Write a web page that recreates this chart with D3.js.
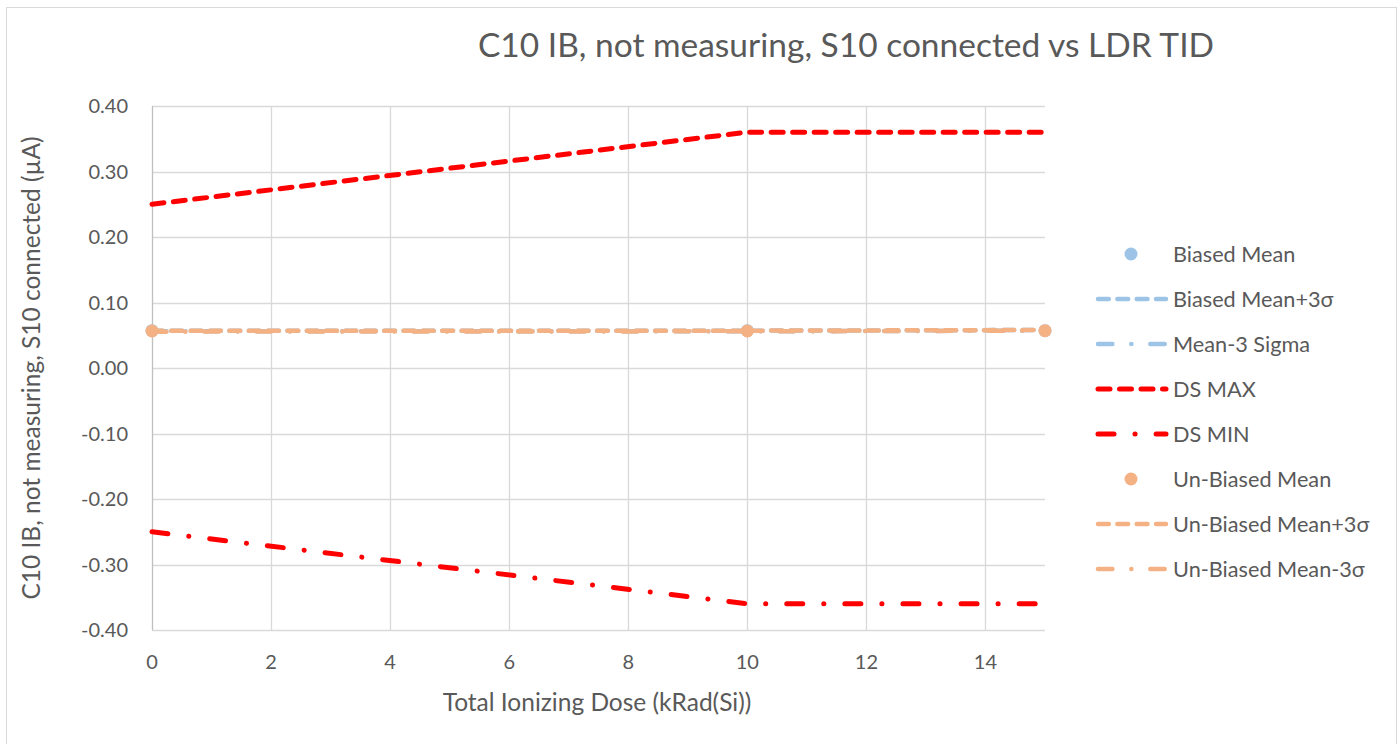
<!DOCTYPE html>
<html>
<head>
<meta charset="utf-8">
<script src="https://cdn.jsdelivr.net/npm/d3@7"></script>
<style>
  html, body { margin: 0; padding: 0; background: #fff; }
  svg { display: block; }
  text { font-family: Lato, "Open Sans", sans-serif; fill: #595959; }
</style>
</head>
<body>
<svg id="chart" width="1399" height="744"></svg>
<script>
// ---- data ----
const doses = [0, 10, 15];
const biasedMean = [0.057, 0.057, 0.057];
const biasedPlus3 = [0.057, 0.057, 0.058];
const biasedMinus3 = [0.056, 0.056, 0.057];
const dsMax = [0.25, 0.36, 0.36];
const dsMin = [-0.25, -0.36, -0.36];
const unbiasedMean = [0.0565, 0.0565, 0.0570];
const unbiasedPlus3 = [0.057, 0.057, 0.058];
const unbiasedMinus3 = [0.0555, 0.056, 0.057];
const xTicks = [0, 2, 4, 6, 8, 10, 12, 14];
const yTicks = [-0.4, -0.3, -0.2, -0.1, 0, 0.1, 0.2, 0.3, 0.4];

const titleText = "C10 IB, not measuring, S10 connected vs LDR TID";
const xTitle = "Total Ionizing Dose (kRad(Si))";
const yTitle = "C10 IB, not measuring, S10 connected (µA)";

const BLUE = "#9DC3E6", ORANGE = "#F4B183", RED = "#FF0000";

const series = [
  {name: "Biased Mean", values: biasedMean, type: "marker", color: BLUE},
  {name: "Biased Mean+3σ", values: biasedPlus3, type: "dash", color: BLUE, w: 4.5},
  {name: "Mean-3 Sigma", values: biasedMinus3, type: "dashdot", color: BLUE, w: 4.5},
  {name: "DS MAX", values: dsMax, type: "dash", color: RED, w: 5},
  {name: "DS MIN", values: dsMin, type: "dashdot", color: RED, w: 5},
  {name: "Un-Biased Mean", values: unbiasedMean, type: "marker", color: ORANGE},
  {name: "Un-Biased Mean+3σ", values: unbiasedPlus3, type: "dash", color: ORANGE, w: 4.5},
  {name: "Un-Biased Mean-3σ", values: unbiasedMinus3, type: "dashdot", color: ORANGE, w: 4.5}
];

function dashArray(type, w) {
  if (type === "dash") return `${w*2.4},${w*1.9}`;
  if (type === "dashdot") return `${w*3.2},${w*4.2},0.1,${w*4.2}`;
  return null;
}

// ---- layout ----
const svg = d3.select("#chart");
const pLeft = 152, pRight = 1045, pTop = 106, pBottom = 630;

const x = d3.scaleLinear().domain([0, 15]).range([pLeft, pRight]);
const y = d3.scaleLinear().domain([-0.4, 0.4]).range([pBottom, pTop]);

// chart border
svg.append("rect").attr("x", 6.5).attr("y", 7.5).attr("width", 1390).attr("height", 760)
  .attr("fill", "#fff").attr("stroke", "#d9d9d9").attr("stroke-width", 1);

// horizontal gridlines
svg.append("g").selectAll("line").data(yTicks).join("line")
  .attr("x1", pLeft).attr("x2", pRight)
  .attr("y1", d => Math.round(y(d)) + 0.5).attr("y2", d => Math.round(y(d)) + 0.5)
  .attr("stroke", "#d9d9d9").attr("stroke-width", 1.3);

// vertical gridlines
svg.append("g").selectAll("line").data(xTicks.filter(d => d > 0)).join("line")
  .attr("x1", d => Math.round(x(d)) + 0.5).attr("x2", d => Math.round(x(d)) + 0.5)
  .attr("y1", pTop).attr("y2", pBottom)
  .attr("stroke", "#d9d9d9").attr("stroke-width", 1.3);

// left axis line
svg.append("line").attr("x1", pLeft + 0.5).attr("x2", pLeft + 0.5).attr("y1", pTop).attr("y2", pBottom)
  .attr("stroke", "#bfbfbf").attr("stroke-width", 1.3);

// y tick labels
const fmt = d => d3.format(".2f")(d).replace("\u2212", "-");
svg.append("g").selectAll("text").data(yTicks).join("text")
  .attr("x", 128).attr("y", d => y(d)).attr("dy", "0.35em")
  .attr("text-anchor", "end").attr("font-size", 20)
  .text(fmt);

// x tick labels
svg.append("g").selectAll("text").data(xTicks).join("text")
  .attr("x", d => x(d)).attr("y", 662).attr("dy", "0.35em")
  .attr("text-anchor", "middle").attr("font-size", 20)
  .text(d => d);

// titles
svg.append("text").attr("x", 846).attr("y", 45).attr("dy", "0.35em")
  .attr("text-anchor", "middle").attr("font-size", 33.5).text(titleText);
svg.append("text").attr("x", 597).attr("y", 702).attr("dy", "0.35em")
  .attr("text-anchor", "middle").attr("font-size", 24.5).text(xTitle);
svg.append("text").attr("transform", "translate(31,368) rotate(-90)").attr("dy", "0.35em")
  .attr("text-anchor", "middle").attr("font-size", 24.5).text(yTitle);

// series
const line = d3.line().x(d => x(d[0])).y(d => y(d[1]));
const plot = svg.append("g");
series.forEach(s => {
  const pts = doses.map((d, i) => [d, s.values[i]]);
  if (s.type === "marker") {
    plot.append("g").selectAll("circle").data(pts).join("circle")
      .attr("cx", d => x(d[0])).attr("cy", d => y(d[1])).attr("r", 6.5)
      .attr("fill", s.color);
  } else {
    plot.append("path").datum(pts).attr("d", line)
      .attr("fill", "none").attr("stroke", s.color).attr("stroke-width", s.w)
      .attr("stroke-linecap", "round").attr("stroke-linejoin", "round")
      .attr("stroke-dasharray", dashArray(s.type, s.w));
  }
});

// legend
const lg = svg.append("g");
series.forEach((s, i) => {
  const cy = 254 + i * 45;
  const g = lg.append("g");
  if (s.type === "marker") {
    g.append("circle").attr("cx", 1131).attr("cy", cy).attr("r", 6.5).attr("fill", s.color);
  } else {
    g.append("line").attr("x1", 1098).attr("x2", 1166).attr("y1", cy).attr("y2", cy)
      .attr("stroke", s.color).attr("stroke-width", s.w)
      .attr("stroke-linecap", "round")
      .attr("stroke-dasharray", dashArray(s.type, s.w));
  }
  g.append("text").attr("x", 1173).attr("y", cy).attr("dy", "0.35em")
    .attr("font-size", 21.7).text(s.name);
});
</script>
</body>
</html>
